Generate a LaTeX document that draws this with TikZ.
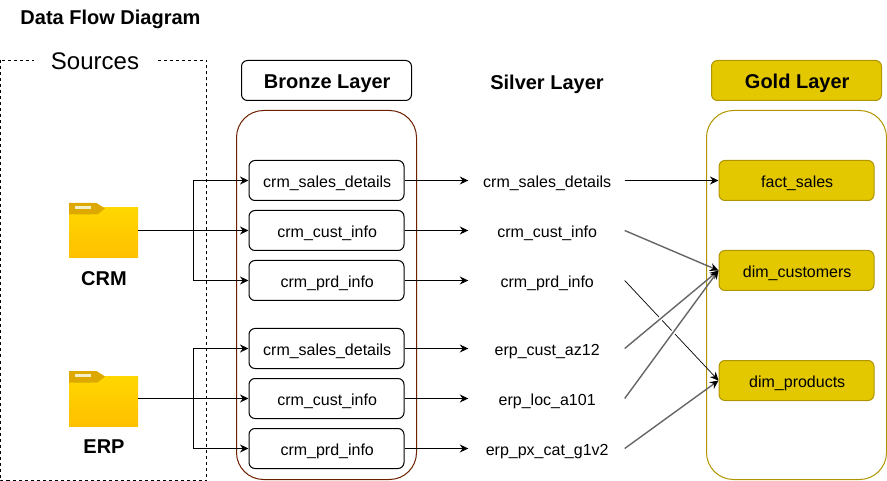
\documentclass[tikz,border=0pt]{standalone}
\usepackage{fontspec}
\setmainfont{Liberation Sans}
\usetikzlibrary{arrows.meta}
\definecolor{bronzeline}{HTML}{6D1F00}
\definecolor{goldline}{HTML}{B09500}
\definecolor{goldfill}{HTML}{E3C800}
\definecolor{linegray}{HTML}{666666}
\definecolor{foldertop}{HTML}{FFD700}
\definecolor{folderbottom}{HTML}{FFC000}
\definecolor{foldertab}{HTML}{DDA800}
\definecolor{folderlabel}{HTML}{F5EFC8}
\tikzset{
  smalltext/.style={inner sep=0pt,text height=14pt,text depth=0pt,execute at begin node=\hspace*{1.4pt},font=\fontsize{16}{18}\selectfont},
  layerbox/.style={smalltext,draw=black,line width=1pt,rounded corners=6pt,minimum width=155pt,minimum height=40pt},
  goldbox/.style={layerbox,draw=goldline,fill=goldfill},
  headbox/.style={layerbox,minimum width=170pt,text height=17pt,font=\fontsize{20}{24}\selectfont\bfseries},
  silvertext/.style={smalltext,minimum width=156pt,minimum height=40pt},
  boldtext/.style={inner sep=0pt,text height=15pt,text depth=0pt,font=\fontsize{20}{24}\selectfont\bfseries},
  container/.style={line width=1pt,rounded corners=27pt},
  flow/.style={-{Stealth[length=8.5pt,width=8pt,color=black]},line width=1pt},
  grayflow/.style={flow,draw=linegray,line width=1.4pt},
  folderpic/.pic={
    \node[minimum width=69pt,minimum height=55pt,inner sep=0pt] (-box) at (0,0) {};
    \fill[top color=foldertop,bottom color=folderbottom] (-34.5,-22.5) rectangle (34.5,27.5);
    \fill[foldertab] (-34.5,-27.5) -- (-7,-27.5) -- (1.5,-22) -- (-6,-16) -- (-34.5,-16) -- cycle;
    \fill[folderlabel] (-28.5,-24.8) rectangle (-12.5,-21.8);
  }
}
\begin{document}
\begin{tikzpicture}[x=1pt,y=-1pt]
  \useasboundingbox (0,0) rectangle (887,481);
  \draw[line width=1pt,dash pattern=on 3pt off 3pt] (0.5,60.5) rectangle (206.5,480.5);
  \draw[container,draw=bronzeline] (236.5,110.5) rectangle (416.5,479.5);
  \draw[container,draw=goldline] (706.5,110.5) rectangle (886.5,479.5);

  \node[boldtext] (title) at (110.5,17) {Data Flow Diagram};
  \node[fill=white,minimum width=122pt,inner sep=0pt,font=\fontsize{24}{28}\selectfont] (sources) at (95,61) {Sources};
  \node[headbox] (bronzehead) at (326.5,80.5) {Bronze Layer};
  \node[boldtext] (silverhead) at (547,82) {Silver Layer};
  \node[headbox,draw=goldline,fill=goldfill] (goldhead) at (796.5,80.5) {Gold Layer};

  \pic (crm) at (103.5,230.5) {folderpic};
  \pic (erp) at (103.5,398.5) {folderpic};
  \node[boldtext] (crmlabel) at (104,278) {CRM};
  \node[boldtext] (erplabel) at (104,446) {ERP};
  \coordinate (crmjoin) at (193.5,230.5);
  \coordinate (erpjoin) at (193.5,398.5);

  \node[layerbox] (b1) at (326.5,180.5) {crm\_sales\_details};
  \node[layerbox] (b2) at (326.5,230.5) {crm\_cust\_info};
  \node[layerbox] (b3) at (326.5,280.5) {crm\_prd\_info};
  \node[layerbox] (b4) at (326.5,348.5) {crm\_sales\_details};
  \node[layerbox] (b5) at (326.5,398.5) {crm\_cust\_info};
  \node[layerbox] (b6) at (326.5,448.5) {crm\_prd\_info};

  \node[silvertext] (s1) at (546.5,180.5) {crm\_sales\_details};
  \node[silvertext] (s2) at (546.5,230.5) {crm\_cust\_info};
  \node[silvertext] (s3) at (546.5,280.5) {crm\_prd\_info};
  \node[silvertext] (s4) at (546.5,348.5) {erp\_cust\_az12};
  \node[silvertext] (s5) at (546.5,398.5) {erp\_loc\_a101};
  \node[silvertext] (s6) at (546.5,448.5) {erp\_px\_cat\_g1v2};

  \node[goldbox] (g1) at (796.5,180.5) {fact\_sales};
  \node[goldbox] (g2) at (796.5,270.5) {dim\_customers};
  \node[goldbox] (g3) at (796.5,380.5) {dim\_products};

  \begin{scope}[flow]
    \draw (crm-box.east) to (crmjoin) |- (b1.west);
    \draw (crm-box.east) to (b2.west);
    \draw (crmjoin) |- (b3.west);
    \draw (erp-box.east) to (erpjoin) |- (b4.west);
    \draw (erp-box.east) to (b5.west);
    \draw (erpjoin) |- (b6.west);
    \draw (b1.east) to (s1.west);
    \draw (b2.east) to (s2.west);
    \draw (b3.east) to (s3.west);
    \draw (b4.east) to (s4.west);
    \draw (b5.east) to (s5.west);
    \draw (b6.east) to (s6.west);
    \draw (s1.east) to (g1.west);
    \draw[line width=0.7pt] (s3.east) to (g3.west);
  \end{scope}
  % white gaps where the gray lines cross
  \draw[white,line width=4.5pt,shorten >=40pt] (s4.east) to (g2.west);
  \draw[white,line width=4.5pt,shorten >=40pt] (s5.east) to (g2.west);
  \begin{scope}[grayflow]
    \draw (s2.east) to (g2.west);
    \draw (s4.east) to (g2.west);
    \draw (s5.east) to (g2.west);
    \draw (s6.east) to (g3.west);
  \end{scope}
\end{tikzpicture}
\end{document}
